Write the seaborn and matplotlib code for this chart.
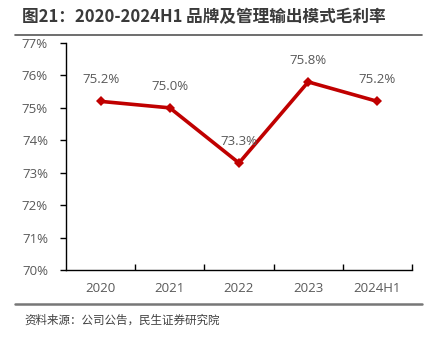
import matplotlib
matplotlib.use("Agg")
import matplotlib.pyplot as plt
import seaborn as sns
import pandas as pd
from matplotlib.lines import Line2D
from matplotlib.ticker import FuncFormatter, FixedLocator

categories = ["2020", "2021", "2022", "2023", "2024H1"]
margin = [75.2, 75.0, 73.3, 75.8, 75.2]
title = "图21：2020-2024H1 品牌及管理输出模式毛利率"
source = "资料来源：公司公告，民生证券研究院"

sns.set_theme(style="white")
plt.rcParams['font.family'] = ['Open Sans', 'Noto Sans CJK SC', 'DejaVu Sans']

df = pd.DataFrame({"cat": categories, "val": margin})

fig = plt.figure(figsize=(4.32, 3.40), dpi=100)
ax = fig.add_axes([66/432, 1-270/340, (412-66)/432, (270-43)/340])

sns.lineplot(data=df, x="cat", y="val", ax=ax, color="#C00000", linewidth=2.6,
             marker="D", markersize=5, markeredgewidth=0, sort=False)

ax.set_ylim(70, 77)
ax.set_xlim(-0.5, 4.5)
ax.yaxis.set_major_locator(FixedLocator(list(range(70, 78))))
ax.yaxis.set_major_formatter(FuncFormatter(lambda v, p: f"{int(v)}%"))
ax.set_xlabel("")
ax.set_ylabel("")

for i, v in enumerate(margin):
    ax.annotate(f"{v:.1f}%", (i, v), xytext=(0, 11), textcoords="offset points",
                ha="center", va="bottom", fontsize=9.5, color="#595959")

for s in ["top", "right"]:
    ax.spines[s].set_visible(False)
for s in ["left", "bottom"]:
    ax.spines[s].set_color("#000000")
    ax.spines[s].set_linewidth(1.0)

ax.tick_params(axis="y", which="major", direction="out", length=4, width=1,
               color="#000000", labelsize=9.5, labelcolor="#595959", pad=9, left=True)
ax.tick_params(axis="x", which="major", length=0, labelsize=9.5, labelcolor="#595959", pad=9)
ax.set_xticks(range(len(categories)))
ax.set_xticklabels(categories)
ax.set_xticks([0.5, 1.5, 2.5, 3.5, 4.5], minor=True)
ax.tick_params(axis="x", which="minor", direction="in", length=4, width=1, color="#000000", bottom=True)

fig.text(22/432, 1-17/340, title, fontsize=12.0, fontweight="bold", color="#3a3a3a",
         ha="left", va="center", family=['Noto Sans CJK SC', 'DejaVu Sans'])
fig.add_artist(Line2D([15/432, 422/432], [1-35/340, 1-35/340], color="#555555", linewidth=1.2))
fig.add_artist(Line2D([15/432, 422/432], [1-304/340, 1-304/340], color="#777777", linewidth=1.8))
fig.text(24/432, 1-320/340, source, fontsize=8.3, color="#404040", ha="left", va="center",
         family=['Noto Sans CJK SC', 'DejaVu Sans'])

fig.savefig("out.png", dpi=100)
